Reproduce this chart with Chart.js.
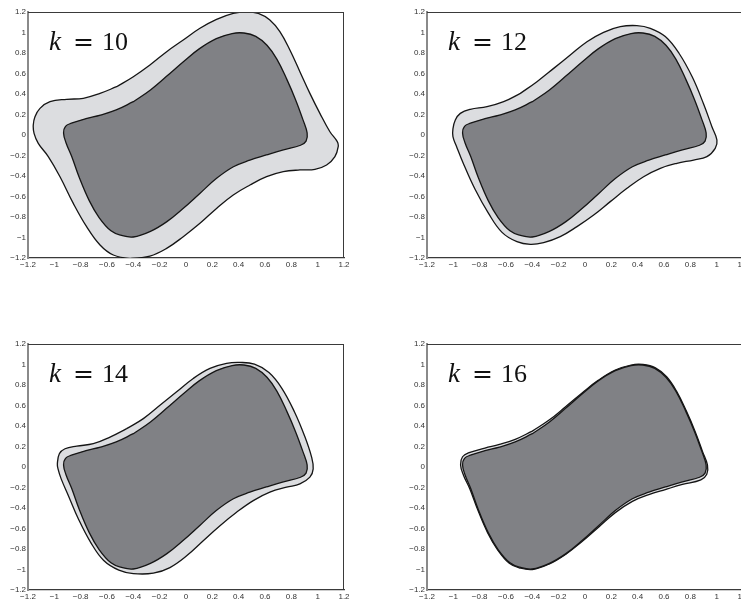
<!DOCTYPE html>
<html><head><meta charset="utf-8">
<script src="https://cdn.jsdelivr.net/npm/chart.js@4.4.1/dist/chart.umd.min.js"></script>
<style>
html,body{margin:0;padding:0;background:#fff;overflow:hidden;width:741px;height:603px;position:relative;}
canvas{position:absolute;}
</style></head><body>
<canvas id="c0" width="370" height="278" style="left:0px;top:0px"></canvas>
<canvas id="c1" width="370" height="278" style="left:399px;top:0px"></canvas>
<canvas id="c2" width="370" height="278" style="left:0px;top:332px"></canvas>
<canvas id="c3" width="370" height="278" style="left:399px;top:332px"></canvas>
<script>
// ---- data ----
const xTicks = [-1.2,-1,-0.8,-0.6,-0.4,-0.2,0,0.2,0.4,0.6,0.8,1,1.2];
const yTicks = [-1.2,-1,-0.8,-0.6,-0.4,-0.2,0,0.2,0.4,0.6,0.8,1,1.2];
const kValues = ['10','12','14','16'];

// inner (dark) set, same in all panels
const inner = [
[-0.40,0.325],[-0.27,0.44],[-0.15,0.57],[-0.02,0.715],[0.10,0.84],[0.23,0.94],
[0.35,0.99],[0.44,0.995],[0.53,0.962],[0.615,0.875],[0.69,0.74],[0.765,0.545],
[0.832,0.345],[0.888,0.15],[0.92,0.02],[0.912,-0.06],[0.87,-0.10],[0.74,-0.145],
[0.61,-0.195],[0.485,-0.245],[0.36,-0.31],[0.23,-0.425],[0.105,-0.57],[-0.02,-0.715],
[-0.145,-0.845],[-0.27,-0.94],[-0.40,-0.995],[-0.495,-0.978],[-0.57,-0.935],[-0.66,-0.805],
[-0.735,-0.64],[-0.812,-0.41],[-0.868,-0.21],[-0.91,-0.08],[-0.93,0.02],[-0.915,0.085],
[-0.87,0.115],[-0.76,0.16],[-0.65,0.195],[-0.53,0.245],[-0.40,0.325]];

const outer10 = [
[-0.527,0.471],[-0.40,0.569],[-0.274,0.683],[-0.147,0.813],[-0.021,0.927],
[0.106,1.041],[0.232,1.128],[0.359,1.187],[0.46,1.2],[0.549,1.187],[0.637,1.122],
[0.713,1.008],[0.789,0.829],[0.865,0.618],[0.941,0.406],[1.017,0.211],[1.093,0.032],
[1.149,-0.065],[1.156,-0.114],[1.131,-0.211],[1.068,-0.293],[0.979,-0.335],[0.865,-0.341],
[0.739,-0.358],[0.612,-0.407],[0.486,-0.488],[0.359,-0.585],[0.232,-0.716],[0.106,-0.862],
[-0.021,-0.992],[-0.147,-1.106],[-0.274,-1.181],[-0.425,-1.203],[-0.552,-1.171],[-0.653,-1.073],
[-0.755,-0.894],[-0.856,-0.667],[-0.957,-0.407],[-1.046,-0.211],[-1.122,-0.081],[-1.154,0.016],
[-1.16,0.098],[-1.147,0.179],[-1.109,0.26],[-1.033,0.325],[-0.906,0.348],[-0.78,0.358],
[-0.653,0.406],[-0.527,0.471]];

const outer12 = [
[-0.491,0.406],[-0.365,0.52],[-0.238,0.65],[-0.112,0.78],[0.015,0.91],[0.141,1.002],
[0.268,1.057],[0.394,1.067],[0.496,1.041],[0.61,0.96],[0.715,0.795],[0.815,0.565],
[0.90,0.305],[0.964,0.081],[1.002,-0.049],[0.989,-0.13],[0.926,-0.211],[0.825,-0.244],
[0.698,-0.276],[0.572,-0.325],[0.445,-0.407],[0.319,-0.52],[0.192,-0.65],[0.066,-0.781],
[-0.061,-0.894],[-0.188,-0.992],[-0.314,-1.05],[-0.415,-1.067],[-0.517,-1.041],[-0.63,-0.95],
[-0.735,-0.76],[-0.835,-0.53],[-0.92,-0.29],[-0.975,-0.114],[-1.003,-0.016],[-1.003,0.06],
[-0.985,0.146],[-0.947,0.211],[-0.871,0.25],[-0.744,0.276],[-0.618,0.325],[-0.491,0.406]];

const outer14 = [
[-0.451,0.374],[-0.324,0.472],[-0.198,0.602],[-0.071,0.733],[0.055,0.864],[0.182,0.962],
[0.308,1.011],[0.41,1.02],[0.52,1.003],[0.63,0.922],[0.728,0.768],[0.825,0.535],
[0.90,0.305],[0.954,0.096],[0.966,-0.018],[0.941,-0.099],[0.865,-0.165],[0.764,-0.197],
[0.637,-0.246],[0.511,-0.328],[0.384,-0.442],[0.258,-0.573],[0.131,-0.72],[0.005,-0.867],
[-0.122,-0.981],[-0.248,-1.036],[-0.40,-1.04],[-0.51,-1.006],[-0.625,-0.912],[-0.722,-0.74],
[-0.818,-0.505],[-0.89,-0.29],[-0.948,-0.116],[-0.972,-0.018],[-0.977,0.031],[-0.962,0.129],
[-0.919,0.178],[-0.83,0.204],[-0.704,0.227],[-0.577,0.292],[-0.451,0.374]];

const outer16 = [
[-0.40,0.35],[-0.27,0.46],[-0.15,0.585],[-0.02,0.725],[0.10,0.845],[0.23,0.945],
[0.35,0.995],[0.44,1.0],[0.535,0.967],[0.62,0.88],[0.695,0.74],[0.77,0.545],
[0.837,0.345],[0.893,0.15],[0.93,0.02],[0.925,-0.07],[0.88,-0.125],[0.74,-0.17],
[0.61,-0.22],[0.485,-0.27],[0.36,-0.335],[0.23,-0.445],[0.105,-0.585],[-0.02,-0.725],
[-0.145,-0.85],[-0.27,-0.945],[-0.40,-1.0],[-0.50,-0.983],[-0.575,-0.94],[-0.665,-0.805],
[-0.74,-0.64],[-0.817,-0.41],[-0.876,-0.21],[-0.923,-0.08],[-0.945,0.02],[-0.93,0.10],
[-0.88,0.14],[-0.76,0.185],[-0.65,0.22],[-0.53,0.27],[-0.40,0.35]];

const outers = [outer10, outer12, outer14, outer16];

// ---- drawing ----
const fmt = v => { const r = Math.round(v*10)/10; return (r < 0 ? '\u2212' : '') + String(Math.abs(r)); };
const toPts = arr => arr.map(p => ({x: p[0], y: p[1]}));

const boxPlugin = {
  id: 'box',
  afterDatasetsDraw(chart) {
    const a = chart.chartArea, ctx = chart.ctx;
    ctx.save();
    ctx.strokeStyle = '#3a3a3a';
    ctx.lineWidth = 1;
    ctx.beginPath();
    ctx.moveTo(a.left, a.top + 0.5);
    ctx.lineTo(a.right, a.top + 0.5);
    ctx.moveTo(a.right - 0.5, a.top);
    ctx.lineTo(a.right - 0.5, a.bottom);
    ctx.stroke();
    ctx.restore();
  }
};

const labelPlugin = {
  id: 'klabel',
  afterDatasetsDraw(chart, args, opts) {
    const a = chart.chartArea, ctx = chart.ctx;
    const x0 = a.left + 21, base = a.top + 38;
    ctx.save();
    ctx.fillStyle = '#111';
    ctx.textBaseline = 'alphabetic';
    ctx.textAlign = 'left';
    ctx.font = 'italic 27px "Liberation Serif"';
    ctx.fillText('k', x0, base);
    ctx.font = '25px "DejaVu Serif"';
    ctx.fillText('=', x0 + 24, base);
    ctx.font = '26px "Liberation Serif"';
    ctx.fillText(opts.text, x0 + 53, base);
    ctx.restore();
  }
};

kValues.forEach((k, i) => {
  const ctx = document.getElementById('c' + i);
  new Chart(ctx, {
    type: 'scatter',
    data: {
      datasets: [
        { data: toPts(inner), showLine: true, fill: 'shape', backgroundColor: '#808185',
          borderColor: '#151515', borderWidth: 1.3, pointRadius: 0, tension: 0.4, order: 1 },
        { data: toPts(outers[i]), showLine: true, fill: 'shape', backgroundColor: '#dcdde0',
          borderColor: '#151515', borderWidth: 1.3, pointRadius: 0, tension: 0.4, order: 2 }
      ]
    },
    options: {
      responsive: false,
      animation: false,
      events: [],
      layout: { padding: { top: 12, right: 26, left: 0, bottom: 0 } },
      plugins: { legend: { display: false }, tooltip: { enabled: false }, klabel: { text: k } },
      scales: {
        x: {
          type: 'linear', min: -1.2, max: 1.2,
          afterBuildTicks: s => { s.ticks = xTicks.map(v => ({ value: v })); },
          afterFit: s => { s.height = 20; },
          grid: { display: false, drawTicks: false },
          border: { display: true, color: '#3a3a3a', width: 1.3 },
          ticks: { autoSkip: false, maxRotation: 0, padding: 2, color: '#333',
                   font: { family: '"Liberation Sans", Arial, sans-serif', size: 8 },
                   callback: v => fmt(v) }
        },
        y: {
          type: 'linear', min: -1.2, max: 1.2,
          afterBuildTicks: s => { s.ticks = yTicks.map(v => ({ value: v })); },
          afterFit: s => { s.width = 28; },
          grid: { display: false, drawTicks: false },
          border: { display: true, color: '#8a8a8a', width: 2 },
          ticks: { autoSkip: false, padding: 2, color: '#333',
                   font: { family: '"Liberation Sans", Arial, sans-serif', size: 8 },
                   callback: v => fmt(v) }
        }
      }
    },
    plugins: [boxPlugin, labelPlugin]
  });
});
</script>
</body></html>
